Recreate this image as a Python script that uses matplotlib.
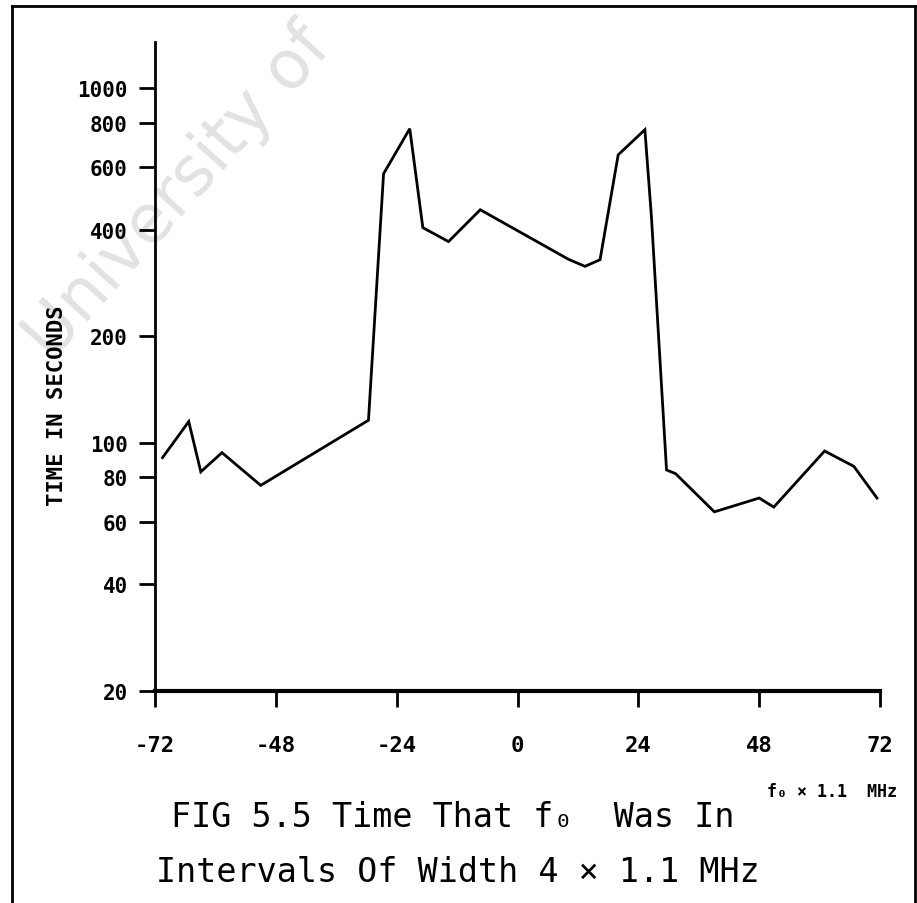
import matplotlib.pyplot as plt
from matplotlib.lines import Line2D

# frequency bin (units of 1.1 MHz) and time spent there (s)
freq = [-70.5, -65.3, -62.9, -58.7, -51.0, -29.6, -26.6, -21.4, -18.8, -13.7,
        -7.4, 10.1, 13.4, 16.4, 20.0, 25.3, 26.6, 29.6, 31.4, 39.1,
        48.0, 50.9, 61.0, 66.8, 71.4]
seconds = [91, 115, 83, 94, 76, 116, 575, 770, 405, 370,
           455, 330, 315, 329, 650, 765, 435, 84, 82, 64,
           70, 66, 95, 86, 70]

xticks = [-72, -48, -24, 0, 24, 48, 72]
yticks = [20, 40, 60, 80, 100, 200, 400, 600, 800, 1000]

W, H = 917, 904
MONO = "DejaVu Sans Mono"
fig = plt.figure(figsize=(W / 100, H / 100), dpi=100)

# faint library watermark behind the plot
fig.text(178 / W, 1 - 192 / H, "University of", fontsize=48, color="#e2e2e2",
         rotation=48, ha="center", va="center", family="DejaVu Sans",
         zorder=-1)

ax = fig.add_axes([155 / W, 1 - 692 / H, 725 / W, 649 / H])
ax.set_facecolor("none")
ax.plot(freq, seconds, color="black", lw=2.0, solid_joinstyle="miter")

ax.set_yscale("log")
ax.set_xlim(-72, 72)
ax.set_ylim(20, 1352)
ax.set_xticks(xticks)
ax.set_xticklabels([str(v) for v in xticks])
ax.set_yticks(yticks)
ax.set_yticklabels([str(v) for v in yticks])
ax.minorticks_off()

for s in ["top", "right"]:
    ax.spines[s].set_visible(False)
ax.spines["left"].set_linewidth(2)
ax.spines["bottom"].set_linewidth(3)

ax.tick_params(axis="y", direction="out", length=11.5, width=2, pad=8)
ax.tick_params(axis="x", direction="out", length=11.5, width=2, pad=20)
for lab in ax.get_yticklabels():
    lab.set_family(MONO)
    lab.set_fontweight("bold")
    lab.set_fontsize(15)
for lab in ax.get_xticklabels():
    lab.set_family(MONO)
    lab.set_fontweight("bold")
    lab.set_fontsize(16)

fig.text(57 / W, 1 - 406 / H, "TIME IN SECONDS", rotation=90, ha="center",
         va="center", family=MONO, fontweight="bold", fontsize=16)

fig.text(897 / W, 1 - 797 / H, "f₀ × 1.1  MHz", ha="right", va="baseline",
         family=MONO, fontweight="bold", fontsize=12)

fig.text(453 / W, 1 - 827 / H, "FIG 5.5 Time That f₀  Was In", ha="center",
         va="baseline", family=MONO, fontsize=24)
fig.text(458 / W, 1 - 882 / H, "Intervals Of Width 4 × 1.1 MHz", ha="center",
         va="baseline", family=MONO, fontsize=24)

# page frame around the figure
fx0, fx1, fy1 = 12 / W, 915 / W, 1 - 7 / H
for xs, ys in [([fx0, fx0], [0, fy1]), ([fx0, fx1], [fy1, fy1]), ([fx1, fx1], [fy1, 0])]:
    fig.add_artist(Line2D(xs, ys, color="black", lw=2))

fig.savefig("out.png", dpi=100)
